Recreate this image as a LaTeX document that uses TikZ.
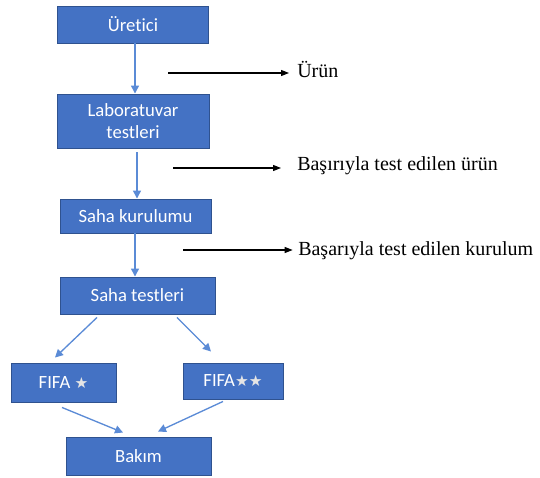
\documentclass[tikz,border=0pt]{standalone}
\usepackage{fontspec}
\setmainfont{Liberation Serif}
\newfontfamily\notefont{Liberation Serif}
\newfontfamily\boxfont[Ligatures=NoCommon]{Carlito}
\newfontfamily\starfont{DejaVu Sans}
\usetikzlibrary{arrows.meta,calc}
\definecolor{boxblue}{HTML}{4472C4}
\definecolor{boxline}{HTML}{2F528F}
\definecolor{flowblue}{HTML}{5B8BD6}
\newcommand{\fifastar}{{\starfont\fontsize{11.5}{12}\selectfont\textcolor{gray!20}{★}}}
\tikzset{
  stepbox/.style={draw=boxline, fill=boxblue, text=white, inner sep=0pt, align=center,
    line width=0.7pt, font=\boxfont\fontsize{14}{16.5}\selectfont},
  flow/.style={draw=flowblue, line width=1pt, -{Triangle[length=6pt,width=6pt]}},
  note/.style={anchor=base west, inner sep=0pt, font=\notefont\fontsize{15}{18}\selectfont},
  noteline/.style={line width=0.8pt, -{Triangle[length=6pt,width=4.5pt]}}
}

\begin{document}
\begin{tikzpicture}[x=0.75pt,y=-0.75pt]
\useasboundingbox (0,0) rectangle (540,478);

% kutular
\node[stepbox, minimum width=113.25pt, minimum height=27.75pt] (uretici) at (133,24.5) {Üretici};
\node[stepbox, minimum width=114pt, minimum height=40.5pt] (lab) at (133,121) {Laboratuvar\\testleri};
\node[stepbox, minimum width=113.25pt, minimum height=25.5pt] (kurulum) at (135.5,216) {Saha kurulumu};
\node[stepbox, minimum width=116.25pt, minimum height=27.75pt] (testler) at (137.5,295.5) {Saha testleri};
\node[stepbox, minimum width=78.75pt, minimum height=29.25pt] (fifa1) at (63.5,382.5) {FIFA \fifastar};
\node[stepbox, minimum width=75pt, minimum height=27pt] (fifa2) at (233,381) {FIFA\fifastar\fifastar};
\node[stepbox, minimum width=108.75pt, minimum height=28.5pt] (bakim) at (138.5,456) {Bakım};

% akis oklari
\draw[flow] ($(uretici.south)+(2,0)$) -- ($(lab.north)+(2,0)$);
\draw[flow] ($(lab.south)+(4,4)$) -- ($(kurulum.north)+(1.5,0)$);
\draw[flow] ($(kurulum.south)+(-0.5,0)$) -- ($(testler.north)+(-2.5,0)$);
\draw[flow] ($(testler.south)+(-40.5,3)$) -- ($(fifa1.north)+(-8.5,-5)$);
\draw[flow] ($(testler.south)+(39.5,3)$) -- ($(fifa2.north)+(-22,-11)$);
\draw[flow] ($(fifa1.south)+(-1.5,5)$) -- ($(bakim.north)+(-15.5,-4)$);
\draw[flow] ($(fifa2.south)+(-10,2)$) -- ($(bakim.north)+(19.5,-5)$);

% ciktilar
\coordinate (s1) at (168,73);
\coordinate (s2) at (173,168);
\coordinate (s3) at (183,250);
\node[note] (urun) at (297,78) {Ürün};
\node[note] (urunok) at (297,171) {Başırıyla test edilen ürün};
\node[note] (kurulumok) at (298,255) {Başarıyla test edilen kurulum};
\draw[noteline, shorten >=6pt] (s1) -- (s1 -| urun.west);
\draw[noteline, shorten >=12pt] (s2) -- (s2 -| urunok.west);
\draw[noteline, shorten >=4pt] (s3) -- (s3 -| kurulumok.west);

\end{tikzpicture}
\end{document}
